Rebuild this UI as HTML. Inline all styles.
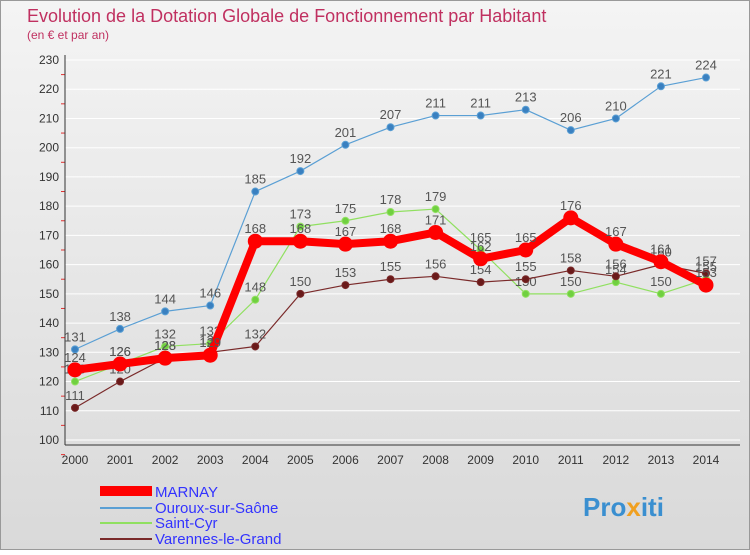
<!DOCTYPE html>
<html><head><meta charset="utf-8"><style>
body{margin:0;width:750px;height:550px;overflow:hidden;font-family:"Liberation Sans",sans-serif}
</style></head><body>
<svg width="750" height="550" xmlns="http://www.w3.org/2000/svg">
<defs><linearGradient id="bg" x1="0" y1="0" x2="0" y2="1"><stop offset="0" stop-color="#f4f4f4"/><stop offset="1" stop-color="#d9d9d9"/></linearGradient></defs>
<rect x="0.5" y="0.5" width="749" height="549" fill="url(#bg)" stroke="#999"/>
<text x="27" y="22" font-size="18" fill="#c03060">Evolution de la Dotation Globale de Fonctionnement par Habitant</text>
<text x="27" y="39" font-size="12" fill="#c03060">(en € et par an)</text>
<g id="axes"></g><g id="series"></g>
<g>
<rect x="100" y="486" width="52" height="10" fill="#ff0000"/>
<text x="155" y="497" font-size="15" fill="#3333ff">MARNAY</text>
<line x1="100" y1="508" x2="152" y2="508" stroke="#5a9fd4" stroke-width="2"/>
<text x="155" y="513" font-size="15" fill="#3333ff">Ouroux-sur-Saône</text>
<line x1="100" y1="523" x2="152" y2="523" stroke="#90e060" stroke-width="2"/>
<text x="155" y="528" font-size="15" fill="#3333ff">Saint-Cyr</text>
<line x1="100" y1="539" x2="152" y2="539" stroke="#7a2a2a" stroke-width="2"/>
<text x="155" y="544" font-size="15" fill="#3333ff">Varennes-le-Grand</text>
</g>
<text x="583" y="516" font-size="26" font-weight="bold" fill="#3a8fd0">Pro<tspan fill="#f0a020">x</tspan>iti</text>
</svg>
<script>
const years=[2000,2001,2002,2003,2004,2005,2006,2007,2008,2009,2010,2011,2012,2013,2014];
const yTicks=[100,110,120,130,140,150,160,170,180,190,200,210,220,230];
const marnay=[124,126,128,129,168,168,167,168,171,162,165,176,167,161,153];
const ouroux=[131,138,144,146,185,192,201,207,211,211,213,206,210,221,224];
const saintCyr=[120,126,132,133,148,173,175,178,179,165,150,150,154,150,155];
const varennes=[111,120,128,130,132,150,153,155,156,154,155,158,156,160,157];
const NS="http://www.w3.org/2000/svg";
const X=i=>75+i*(706-75)/14, Y=v=>440-(v-100)*380/130;
function mk(t,a,p){const e=document.createElementNS(NS,t);for(const k in a)e.setAttribute(k,a[k]);p.appendChild(e);return e;}
const ax=document.getElementById('axes');
yTicks.forEach(v=>{const g=mk('line',{x1:65,x2:740,y1:Y(v),y2:Y(v),stroke:'#fff','stroke-width':1},ax);

const t=mk('text',{x:59,y:Y(v)+4,'font-size':12,'text-anchor':'end',fill:'#333'},ax);t.textContent=v;

const tk=mk('line',{x1:61,x2:65,y1:Y(v)+14.6,y2:Y(v)+14.6,stroke:'#e03030'},ax);
});
years.forEach((y,i)=>{const t=mk('text',{x:X(i),y:464,'font-size':12,'text-anchor':'middle',fill:'#333'},ax);t.textContent=y;
});
const a1=mk('line',{x1:65,x2:65,y1:55,y2:445,stroke:'#333'},ax);
const a2=mk('line',{x1:65,x2:740,y1:445,y2:445,stroke:'#333'},ax);
const sg=document.getElementById('series');
function draw(vals,color,w,r,dot,name){
const g=mk('g',{},sg);
const p=mk('polyline',{points:vals.map((v,i)=>X(i)+','+Y(v)).join(' '),fill:'none',stroke:color,'stroke-width':w,'stroke-linejoin':'round'},g);

vals.forEach((v,i)=>{const c=mk('circle',{cx:X(i),cy:Y(v),r:r,fill:dot,stroke:color,'stroke-width':1},g);

const t=mk('text',{x:X(i),y:Y(v)-8,'font-size':13,'text-anchor':'middle',fill:'#555'},g);t.textContent=v;
});}
draw(ouroux,'#5a9fd4',1.2,3.5,'#3a80c0','ouroux');
draw(saintCyr,'#90e060',1.2,3.5,'#70d040','saint-cyr');
draw(varennes,'#7a2a2a',1.2,3.5,'#6a1a1a','varennes');
draw(marnay,'#ff0000',8,7,'#ff0000','marnay');
</script>
</body></html>
